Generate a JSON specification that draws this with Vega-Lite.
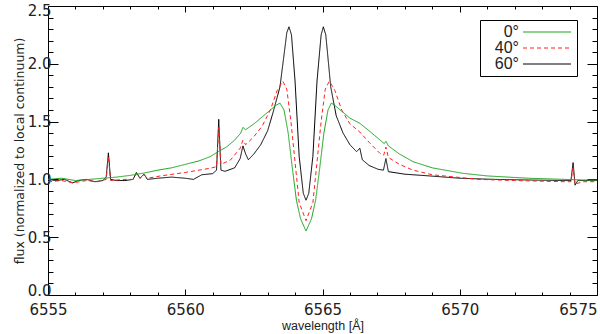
{
  "$schema": "https://vega.github.io/schema/vega-lite/v6.json",
  "width": 549,
  "height": 289,
  "autosize": "none",
  "padding": {"left": 48, "top": 6, "right": 3, "bottom": 39},
  "config": {
    "view": {"stroke": "black", "strokeWidth": 1},
    "axis": {
      "domain": false, "grid": false,
      "labelFont": "DejaVu Sans", "labelFontSize": 15, "labelColor": "#222",
      "titleFont": "DejaVu Sans", "titleFontSize": 12.5, "titleFontWeight": "normal", "titleColor": "#222",
      "tickColor": "black", "tickWidth": 1
    }
  },
  "data": {"values": [
    {"s": "60°", "w": 6555.0, "f": 1.0},
    {"s": "60°", "w": 6555.3, "f": 0.99},
    {"s": "60°", "w": 6555.6, "f": 1.0},
    {"s": "60°", "w": 6555.9, "f": 0.97},
    {"s": "60°", "w": 6556.1, "f": 0.99},
    {"s": "60°", "w": 6556.4, "f": 1.0},
    {"s": "60°", "w": 6556.7, "f": 0.98},
    {"s": "60°", "w": 6557.0, "f": 0.99},
    {"s": "60°", "w": 6557.12, "f": 1.02},
    {"s": "60°", "w": 6557.2, "f": 1.23},
    {"s": "60°", "w": 6557.28, "f": 1.0},
    {"s": "60°", "w": 6557.5, "f": 0.99},
    {"s": "60°", "w": 6557.8, "f": 0.99},
    {"s": "60°", "w": 6558.1, "f": 1.0},
    {"s": "60°", "w": 6558.22, "f": 1.06},
    {"s": "60°", "w": 6558.35, "f": 1.01},
    {"s": "60°", "w": 6558.5, "f": 1.045},
    {"s": "60°", "w": 6558.62, "f": 1.0},
    {"s": "60°", "w": 6559.0, "f": 1.01},
    {"s": "60°", "w": 6559.5, "f": 1.02},
    {"s": "60°", "w": 6560.0, "f": 1.01},
    {"s": "60°", "w": 6560.3, "f": 1.0},
    {"s": "60°", "w": 6560.6, "f": 1.04},
    {"s": "60°", "w": 6561.0, "f": 1.05},
    {"s": "60°", "w": 6561.14, "f": 1.08},
    {"s": "60°", "w": 6561.22, "f": 1.52},
    {"s": "60°", "w": 6561.3, "f": 1.08},
    {"s": "60°", "w": 6561.45, "f": 1.07},
    {"s": "60°", "w": 6561.8, "f": 1.1},
    {"s": "60°", "w": 6562.0, "f": 1.18},
    {"s": "60°", "w": 6562.1, "f": 1.29},
    {"s": "60°", "w": 6562.2, "f": 1.22},
    {"s": "60°", "w": 6562.3, "f": 1.17},
    {"s": "60°", "w": 6562.5, "f": 1.22},
    {"s": "60°", "w": 6562.75, "f": 1.3},
    {"s": "60°", "w": 6563.0, "f": 1.42},
    {"s": "60°", "w": 6563.2, "f": 1.58},
    {"s": "60°", "w": 6563.45, "f": 1.8},
    {"s": "60°", "w": 6563.6, "f": 2.08},
    {"s": "60°", "w": 6563.7, "f": 2.27},
    {"s": "60°", "w": 6563.78, "f": 2.32},
    {"s": "60°", "w": 6563.87, "f": 2.25},
    {"s": "60°", "w": 6564.0, "f": 1.85},
    {"s": "60°", "w": 6564.15, "f": 1.2},
    {"s": "60°", "w": 6564.3, "f": 0.88},
    {"s": "60°", "w": 6564.4, "f": 0.82},
    {"s": "60°", "w": 6564.5, "f": 0.88},
    {"s": "60°", "w": 6564.65, "f": 1.2},
    {"s": "60°", "w": 6564.8, "f": 1.85},
    {"s": "60°", "w": 6564.95, "f": 2.25},
    {"s": "60°", "w": 6565.03, "f": 2.32},
    {"s": "60°", "w": 6565.12, "f": 2.25},
    {"s": "60°", "w": 6565.3, "f": 1.8},
    {"s": "60°", "w": 6565.5, "f": 1.55},
    {"s": "60°", "w": 6565.75, "f": 1.4},
    {"s": "60°", "w": 6566.0, "f": 1.3},
    {"s": "60°", "w": 6566.24, "f": 1.24},
    {"s": "60°", "w": 6566.36, "f": 1.27},
    {"s": "60°", "w": 6566.45, "f": 1.17},
    {"s": "60°", "w": 6566.7, "f": 1.12},
    {"s": "60°", "w": 6567.03, "f": 1.087},
    {"s": "60°", "w": 6567.22, "f": 1.08},
    {"s": "60°", "w": 6567.31, "f": 1.18},
    {"s": "60°", "w": 6567.4, "f": 1.067},
    {"s": "60°", "w": 6568.0, "f": 1.045},
    {"s": "60°", "w": 6568.9, "f": 1.03},
    {"s": "60°", "w": 6570.0, "f": 1.01},
    {"s": "60°", "w": 6571.3, "f": 1.0},
    {"s": "60°", "w": 6572.5, "f": 0.995},
    {"s": "60°", "w": 6573.8, "f": 0.99},
    {"s": "60°", "w": 6574.05, "f": 0.99},
    {"s": "60°", "w": 6574.13, "f": 1.145},
    {"s": "60°", "w": 6574.2, "f": 0.95},
    {"s": "60°", "w": 6574.3, "f": 0.99},
    {"s": "60°", "w": 6575.0, "f": 0.99},

    {"s": "40°", "w": 6555.0, "f": 0.98},
    {"s": "40°", "w": 6555.5, "f": 0.99},
    {"s": "40°", "w": 6555.9, "f": 0.97},
    {"s": "40°", "w": 6556.4, "f": 0.99},
    {"s": "40°", "w": 6556.8, "f": 0.98},
    {"s": "40°", "w": 6557.12, "f": 1.0},
    {"s": "40°", "w": 6557.2, "f": 1.2},
    {"s": "40°", "w": 6557.28, "f": 0.99},
    {"s": "40°", "w": 6557.8, "f": 1.0},
    {"s": "40°", "w": 6558.1, "f": 1.0},
    {"s": "40°", "w": 6558.22, "f": 1.05},
    {"s": "40°", "w": 6558.35, "f": 1.01},
    {"s": "40°", "w": 6558.5, "f": 1.04},
    {"s": "40°", "w": 6558.62, "f": 1.01},
    {"s": "40°", "w": 6559.1, "f": 1.03},
    {"s": "40°", "w": 6560.0, "f": 1.06},
    {"s": "40°", "w": 6560.5, "f": 1.08},
    {"s": "40°", "w": 6560.9, "f": 1.096},
    {"s": "40°", "w": 6561.14, "f": 1.11},
    {"s": "40°", "w": 6561.22, "f": 1.45},
    {"s": "40°", "w": 6561.3, "f": 1.13},
    {"s": "40°", "w": 6561.65, "f": 1.168},
    {"s": "40°", "w": 6562.0, "f": 1.27},
    {"s": "40°", "w": 6562.1, "f": 1.34},
    {"s": "40°", "w": 6562.2, "f": 1.3},
    {"s": "40°", "w": 6562.5, "f": 1.37},
    {"s": "40°", "w": 6562.8, "f": 1.46},
    {"s": "40°", "w": 6563.1, "f": 1.6},
    {"s": "40°", "w": 6563.35, "f": 1.77},
    {"s": "40°", "w": 6563.55, "f": 1.85},
    {"s": "40°", "w": 6563.7, "f": 1.78},
    {"s": "40°", "w": 6563.85, "f": 1.5},
    {"s": "40°", "w": 6564.0, "f": 1.15},
    {"s": "40°", "w": 6564.15, "f": 0.8},
    {"s": "40°", "w": 6564.4, "f": 0.643},
    {"s": "40°", "w": 6564.65, "f": 0.8},
    {"s": "40°", "w": 6564.8, "f": 1.15},
    {"s": "40°", "w": 6564.95, "f": 1.5},
    {"s": "40°", "w": 6565.1, "f": 1.78},
    {"s": "40°", "w": 6565.25, "f": 1.85},
    {"s": "40°", "w": 6565.45, "f": 1.77},
    {"s": "40°", "w": 6565.7, "f": 1.6},
    {"s": "40°", "w": 6566.0, "f": 1.48},
    {"s": "40°", "w": 6566.36, "f": 1.41},
    {"s": "40°", "w": 6566.7, "f": 1.32},
    {"s": "40°", "w": 6567.09, "f": 1.226},
    {"s": "40°", "w": 6567.23, "f": 1.21},
    {"s": "40°", "w": 6567.31, "f": 1.28},
    {"s": "40°", "w": 6567.4, "f": 1.19},
    {"s": "40°", "w": 6567.8, "f": 1.13},
    {"s": "40°", "w": 6568.3, "f": 1.08},
    {"s": "40°", "w": 6569.0, "f": 1.04},
    {"s": "40°", "w": 6570.7, "f": 1.0},
    {"s": "40°", "w": 6572.0, "f": 0.99},
    {"s": "40°", "w": 6573.8, "f": 0.98},
    {"s": "40°", "w": 6574.05, "f": 0.98},
    {"s": "40°", "w": 6574.13, "f": 1.1},
    {"s": "40°", "w": 6574.2, "f": 0.96},
    {"s": "40°", "w": 6574.5, "f": 0.98},
    {"s": "40°", "w": 6575.0, "f": 0.98},

    {"s": "0°", "w": 6555.0, "f": 1.0},
    {"s": "0°", "w": 6555.5, "f": 1.01},
    {"s": "0°", "w": 6556.0, "f": 0.99},
    {"s": "0°", "w": 6556.5, "f": 1.0},
    {"s": "0°", "w": 6557.0, "f": 1.01},
    {"s": "0°", "w": 6557.5, "f": 1.02},
    {"s": "0°", "w": 6558.0, "f": 1.035},
    {"s": "0°", "w": 6558.5, "f": 1.055},
    {"s": "0°", "w": 6559.0, "f": 1.08},
    {"s": "0°", "w": 6559.5, "f": 1.1},
    {"s": "0°", "w": 6560.0, "f": 1.13},
    {"s": "0°", "w": 6560.5, "f": 1.16},
    {"s": "0°", "w": 6560.9, "f": 1.196},
    {"s": "0°", "w": 6561.2, "f": 1.24},
    {"s": "0°", "w": 6561.5, "f": 1.28},
    {"s": "0°", "w": 6561.8, "f": 1.34},
    {"s": "0°", "w": 6562.02, "f": 1.4},
    {"s": "0°", "w": 6562.1, "f": 1.45},
    {"s": "0°", "w": 6562.2, "f": 1.43},
    {"s": "0°", "w": 6562.5, "f": 1.48},
    {"s": "0°", "w": 6562.8, "f": 1.54},
    {"s": "0°", "w": 6563.1, "f": 1.6},
    {"s": "0°", "w": 6563.3, "f": 1.64},
    {"s": "0°", "w": 6563.45, "f": 1.66},
    {"s": "0°", "w": 6563.6, "f": 1.6},
    {"s": "0°", "w": 6563.75, "f": 1.4},
    {"s": "0°", "w": 6563.9, "f": 1.1},
    {"s": "0°", "w": 6564.05, "f": 0.82},
    {"s": "0°", "w": 6564.2, "f": 0.66},
    {"s": "0°", "w": 6564.4, "f": 0.553},
    {"s": "0°", "w": 6564.6, "f": 0.66},
    {"s": "0°", "w": 6564.75, "f": 0.82},
    {"s": "0°", "w": 6564.9, "f": 1.1},
    {"s": "0°", "w": 6565.05, "f": 1.4},
    {"s": "0°", "w": 6565.2, "f": 1.6},
    {"s": "0°", "w": 6565.32, "f": 1.66},
    {"s": "0°", "w": 6565.45, "f": 1.64},
    {"s": "0°", "w": 6565.7, "f": 1.59},
    {"s": "0°", "w": 6566.0, "f": 1.53},
    {"s": "0°", "w": 6566.36, "f": 1.485},
    {"s": "0°", "w": 6566.7, "f": 1.42},
    {"s": "0°", "w": 6567.0, "f": 1.36},
    {"s": "0°", "w": 6567.25, "f": 1.31},
    {"s": "0°", "w": 6567.31, "f": 1.33},
    {"s": "0°", "w": 6567.4, "f": 1.29},
    {"s": "0°", "w": 6567.8, "f": 1.22},
    {"s": "0°", "w": 6568.3, "f": 1.153},
    {"s": "0°", "w": 6569.0, "f": 1.1},
    {"s": "0°", "w": 6570.1, "f": 1.053},
    {"s": "0°", "w": 6571.0, "f": 1.03},
    {"s": "0°", "w": 6572.5, "f": 1.01},
    {"s": "0°", "w": 6574.5, "f": 0.995},
    {"s": "0°", "w": 6575.0, "f": 0.995}
  ]},
  "layer": [
    {
      "mark": {"type": "line", "strokeWidth": 1},
      "encoding": {
        "x": {"field": "w", "type": "quantitative", "scale": {"domain": [6555, 6575], "nice": false, "zero": false},
              "axis": {"orient": "bottom", "values": [6555, 6560, 6565, 6570, 6575], "format": "d", "tickSize": -6, "labelPadding": 13,
                       "labelAlign": {"expr": "datum.value == 6575 ? 'right' : 'center'"},
                       "title": "wavelength [Å]", "titleFont": "Liberation Sans", "titleFontSize": 12.5, "titlePadding": 2}},
        "y": {"field": "f", "type": "quantitative", "scale": {"domain": [0, 2.5], "nice": false, "zero": false},
              "axis": {"orient": "left", "values": [0, 0.5, 1, 1.5, 2, 2.5], "format": ".1f", "tickSize": -10, "labelPadding": 7,
                       "labelFlush": true, "labelFlushOffset": 3,
                       "title": "flux (normalized to local continuum)", "titlePadding": 1}},
        "color": {"field": "s", "type": "nominal", "scale": {"domain": ["0°", "40°", "60°"], "range": ["#1aa31a", "#ff2020", "#000000"]},
                  "legend": {"orient": "none", "legendX": 432, "legendY": 14, "title": null, "strokeColor": "black", "fillColor": "white", "padding": 4,
                             "symbolType": "M-4.8,0H4.8", "symbolSize": 100, "symbolStrokeWidth": 1, "symbolOffset": 55,
                             "labelFontSize": 16, "labelFont": "Liberation Sans", "labelColor": "#222",
                             "labelAlign": "right", "labelOffset": -36, "rowPadding": 0,
                             "labelExpr": "'\u2002\u2002' + datum.label"}},
        "strokeDash": {"field": "s", "type": "nominal", "scale": {"domain": ["0°", "40°", "60°"], "range": [[1, 0], [4, 3], [1, 0]]},
                  "legend": {"orient": "none", "legendX": 432, "legendY": 14, "title": null, "strokeColor": "black", "fillColor": "white", "padding": 4,
                             "symbolType": "M-4.8,0H4.8", "symbolSize": 100, "symbolStrokeWidth": 1, "symbolOffset": 55,
                             "labelFontSize": 16, "labelFont": "Liberation Sans", "labelColor": "#222",
                             "labelAlign": "right", "labelOffset": -36, "rowPadding": 0,
                             "labelExpr": "'\u2002\u2002' + datum.label"}}
      }
    },
    {
      "mark": {"type": "line", "opacity": 0},
      "encoding": {
        "detail": {"field": "s"},
        "x": {"field": "w", "type": "quantitative", "axis": {"orient": "bottom", "values": [6556, 6557, 6558, 6559, 6561, 6562, 6563, 6564, 6566, 6567, 6568, 6569, 6571, 6572, 6573, 6574], "labels": false, "tickSize": -3, "title": null}},
        "y": {"field": "f", "type": "quantitative", "axis": {"orient": "left", "values": [0.1, 0.2, 0.3, 0.4, 0.6, 0.7, 0.8, 0.9, 1.1, 1.2, 1.3, 1.4, 1.6, 1.7, 1.8, 1.9, 2.1, 2.2, 2.3, 2.4], "labels": false, "tickSize": -5, "title": null}}
      }
    },
    {
      "mark": {"type": "line", "opacity": 0},
      "encoding": {
        "detail": {"field": "s"},
        "x": {"field": "w", "type": "quantitative", "axis": {"orient": "top", "values": [6555, 6560, 6565, 6570, 6575], "labels": false, "tickSize": -6, "title": null}},
        "y": {"field": "f", "type": "quantitative", "axis": {"orient": "right", "values": [0, 0.5, 1, 1.5, 2, 2.5], "labels": false, "tickSize": -10, "title": null}}
      }
    },
    {
      "mark": {"type": "line", "opacity": 0},
      "encoding": {
        "detail": {"field": "s"},
        "x": {"field": "w", "type": "quantitative", "axis": {"orient": "top", "values": [6556, 6557, 6558, 6559, 6561, 6562, 6563, 6564, 6566, 6567, 6568, 6569, 6571, 6572, 6573, 6574], "labels": false, "tickSize": -3, "title": null}},
        "y": {"field": "f", "type": "quantitative", "axis": {"orient": "right", "values": [0.1, 0.2, 0.3, 0.4, 0.6, 0.7, 0.8, 0.9, 1.1, 1.2, 1.3, 1.4, 1.6, 1.7, 1.8, 1.9, 2.1, 2.2, 2.3, 2.4], "labels": false, "tickSize": -5, "title": null}}
      }
    }
  ],
  "resolve": {"axis": {"x": "independent", "y": "independent"}}
}
